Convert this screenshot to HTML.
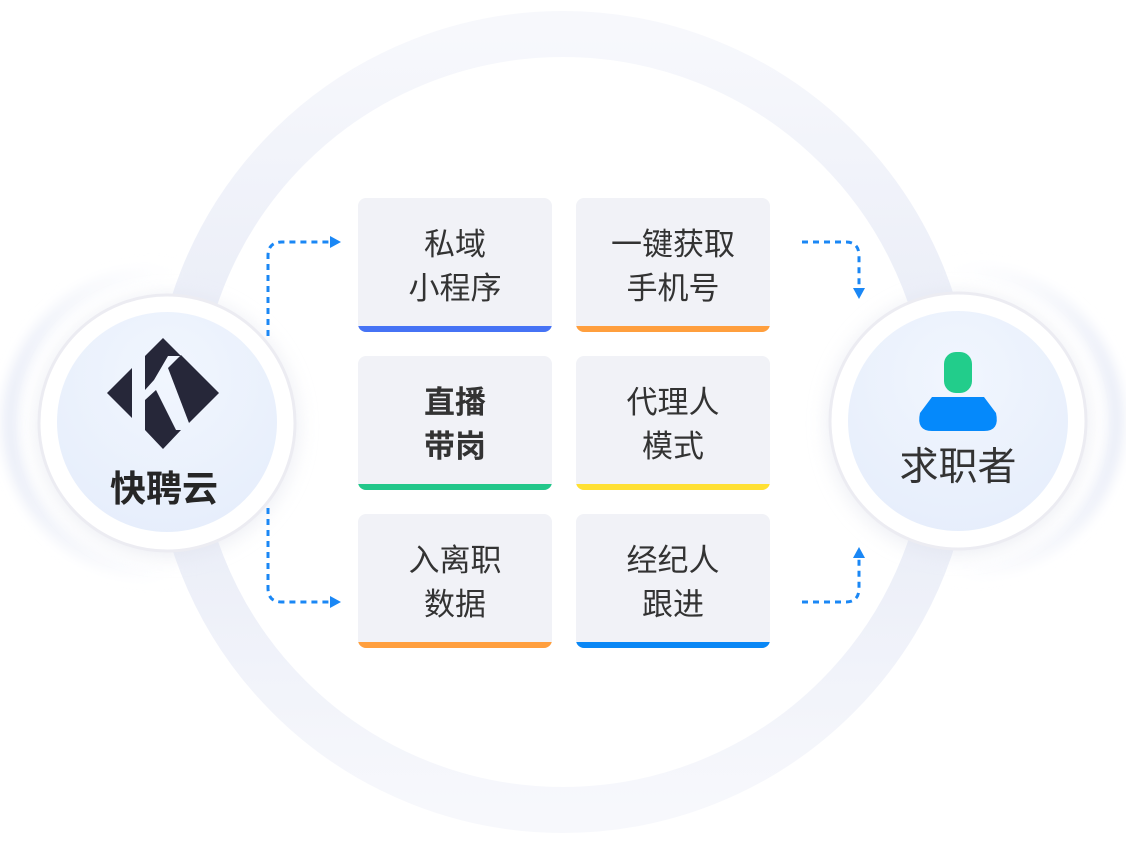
<!DOCTYPE html>
<html><head><meta charset="utf-8"><style>
html,body{margin:0;padding:0;background:#fff;}
body{width:1126px;height:844px;position:relative;overflow:hidden;font-family:"Liberation Sans","Noto Sans CJK SC",sans-serif;}
.card{position:absolute;width:194px;height:134px;background:#f1f2f7;border-radius:8px;overflow:hidden;box-sizing:border-box;}
.card .t{position:absolute;left:0;right:0;top:25px;text-align:center;font-size:31px;line-height:44px;color:#333;}
.card .b{position:absolute;left:0;right:0;bottom:0;height:6px;}
</style></head><body>
<svg width="1126" height="844" style="position:absolute;left:0;top:0">
<defs>
<linearGradient id="rg" x1="0" y1="0" x2="0" y2="1">
<stop offset="0" stop-color="#f7f8fc"/><stop offset="0.5" stop-color="#e6eaf6"/><stop offset="1" stop-color="#f7f8fc"/>
</linearGradient>
<radialGradient id="inner" cx="0.5" cy="0.3" r="0.8"><stop offset="0" stop-color="#f1f6fe"/><stop offset="1" stop-color="#e5edfb"/></radialGradient>
<linearGradient id="hl" x1="0" y1="0" x2="1" y2="0"><stop offset="0" stop-color="#e8ecf7"/><stop offset="0.6" stop-color="#f8f9fd" stop-opacity="0"/></linearGradient>
<linearGradient id="hr" x1="1" y1="0" x2="0" y2="0"><stop offset="0" stop-color="#e8ecf7"/><stop offset="0.6" stop-color="#f8f9fd" stop-opacity="0"/></linearGradient>
<filter id="bl"><feGaussianBlur stdDeviation="6"/></filter>
<filter id="sh" x="-30%" y="-30%" width="160%" height="160%"><feGaussianBlur stdDeviation="10"/></filter>
</defs>
<circle cx="563" cy="422" r="388" fill="none" stroke="url(#rg)" stroke-width="46"/>
<circle cx="160" cy="423" r="150" fill="none" stroke="url(#hl)" stroke-width="14" filter="url(#bl)"/>
<circle cx="966" cy="421" r="150" fill="none" stroke="url(#hr)" stroke-width="14" filter="url(#bl)"/>
<circle cx="167" cy="426" r="130" fill="#dfe2ec" filter="url(#sh)" opacity="0.6"/>
<circle cx="958" cy="424" r="130" fill="#dfe2ec" filter="url(#sh)" opacity="0.6"/>
<circle cx="167" cy="423" r="128" fill="#fff" stroke="#ececf2" stroke-width="3"/>
<circle cx="167" cy="422" r="110" fill="url(#inner)"/>
<circle cx="958" cy="421" r="128" fill="#fff" stroke="#ececf2" stroke-width="3"/>
<circle cx="958" cy="421" r="110" fill="url(#inner)"/>
<g fill="#262739">
<polygon points="107,393 132,368 132,418"/>
<polygon points="145,356 163,338 181,356 168,356 154,380 145,390"/>
<polygon points="168,368 181,355 219,393 189,423"/>
<polygon points="145,400 156,390 176,430 181,430 163,449 145,430"/>
</g>
<rect x="944" y="352" width="28" height="41" rx="12" fill="#22cd8b"/>
<path d="M932 397 H984 L996 413 Q1000 431 984 431 H932 Q916 431 920 413 Z" fill="#0589fb"/>
<g fill="none" stroke="#1a87f5" stroke-width="3" stroke-dasharray="6 5">
<path d="M268 336 V256 Q268 242 282 242 H330"/>
<path d="M268 508 V588 Q268 602 282 602 H330"/>
<path d="M802 242 H846 Q859 242 859 256 V288"/>
<path d="M802 602 H846 Q859 602 859 588 V556"/>
</g>
<g fill="#1a87f5">
<polygon points="330,236 341,242 330,248"/>
<polygon points="330,596 341,602 330,608"/>
<polygon points="853,288 865,288 859,299"/>
<polygon points="853,558 865,558 859,547"/>
</g>
</svg>
<div style="position:absolute;left:64px;top:467px;width:200px;text-align:center;font-size:36px;font-weight:bold;color:#262626;line-height:44px;">快聘云</div>
<div style="position:absolute;left:858px;top:445px;width:200px;text-align:center;font-size:39px;color:#333;line-height:46px;">求职者</div>

<div class="card" style="left:358px;top:198px"><div class="t">私域<br>小程序</div><div class="b" style="background:#4673f5"></div></div>
<div class="card" style="left:576px;top:198px"><div class="t">一键获取<br>手机号</div><div class="b" style="background:#ff9f3e"></div></div>
<div class="card" style="left:358px;top:356px"><div class="t" style="font-weight:bold">直播<br>带岗</div><div class="b" style="background:#22c78a"></div></div>
<div class="card" style="left:576px;top:356px"><div class="t">代理人<br>模式</div><div class="b" style="background:#ffe033"></div></div>
<div class="card" style="left:358px;top:514px"><div class="t">入离职<br>数据</div><div class="b" style="background:#ff9f3e"></div></div>
<div class="card" style="left:576px;top:514px"><div class="t">经纪人<br>跟进</div><div class="b" style="background:#0a87f5"></div></div>
</body></html>
